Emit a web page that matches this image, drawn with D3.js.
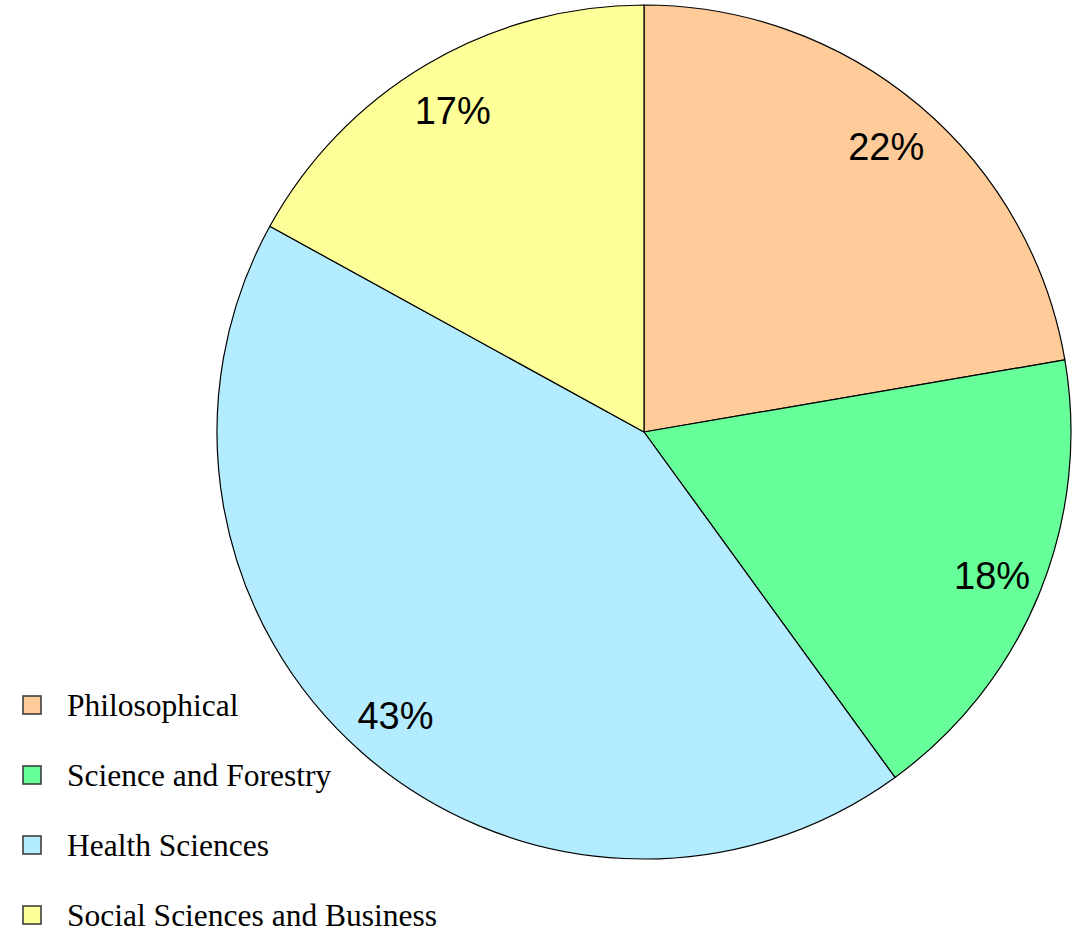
<!DOCTYPE html>
<html>
<head>
<meta charset="utf-8">
<script src="https://cdn.jsdelivr.net/npm/d3@7"></script>
<style>
  body { margin: 0; background: #fff; }
</style>
</head>
<body>
<svg id="chart" width="1076" height="934"></svg>
<script>
var categories = ["Philosophical", "Science and Forestry", "Health Sciences", "Social Sciences and Business"]
var values = [22.3, 17.7, 43, 17]
var labels = ["22%", "18%", "43%", "17%"]
var colors = ["#FFCC99", "#66FF99", "#B3ECFF", "#FFFF99"]

var svg = d3.select('#chart')
var cx = 644, cy = 432, radius = 427

var color = d3.scaleOrdinal()
    .domain(categories)
    .range(colors)

var pie = d3.pie()
    .sort(null)
    .value(function (d) { return d.value })

var data = categories.map(function (c, i) {
    return { name: c, value: values[i], label: labels[i] }
})

var arc = d3.arc()
    .innerRadius(0)
    .outerRadius(radius)

var labelArc = d3.arc()
    .innerRadius(radius * 0.88)
    .outerRadius(radius * 0.88)

var g = svg.append('g')
    .attr('transform', 'translate(' + cx + ',' + cy + ')')

g.selectAll('path')
    .data(pie(data))
    .enter()
    .append('path')
    .attr('d', arc)
    .attr('fill', function (d) { return color(d.data.name) })
    .attr('stroke', 'black')
    .attr('stroke-width', 1.2)
    .attr('stroke-linejoin', 'round')

g.selectAll('text.pct')
    .data(pie(data))
    .enter()
    .append('text')
    .attr('class', 'pct')
    .attr('transform', function (d) { return 'translate(' + labelArc.centroid(d) + ')' })
    .attr('text-anchor', 'middle')
    .attr('dy', '0.4em')
    .style('font-family', 'Liberation Sans, Arial, sans-serif')
    .style('font-size', '38px')
    .style('fill', 'black')
    .text(function (d) { return d.data.label })

// legend
var size = 18
var legend = svg.append('g')

legend.selectAll('rect')
    .data(categories)
    .enter()
    .append('rect')
    .attr('x', 23)
    .attr('y', function (d, i) { return 696 + i * 70 })
    .attr('width', size)
    .attr('height', size)
    .attr('fill', function (d) { return color(d) })
    .attr('stroke', '#333')
    .attr('stroke-width', 1.5)

legend.selectAll('text')
    .data(categories)
    .enter()
    .append('text')
    .attr('x', 67)
    .attr('y', function (d, i) { return 696 + i * 70 + size / 2 })
    .attr('dy', '0.36em')
    .style('font-family', 'Liberation Serif, Times New Roman, serif')
    .style('font-size', '31.5px')
    .style('fill', 'black')
    .text(function (d) { return d })
</script>
</body>
</html>
